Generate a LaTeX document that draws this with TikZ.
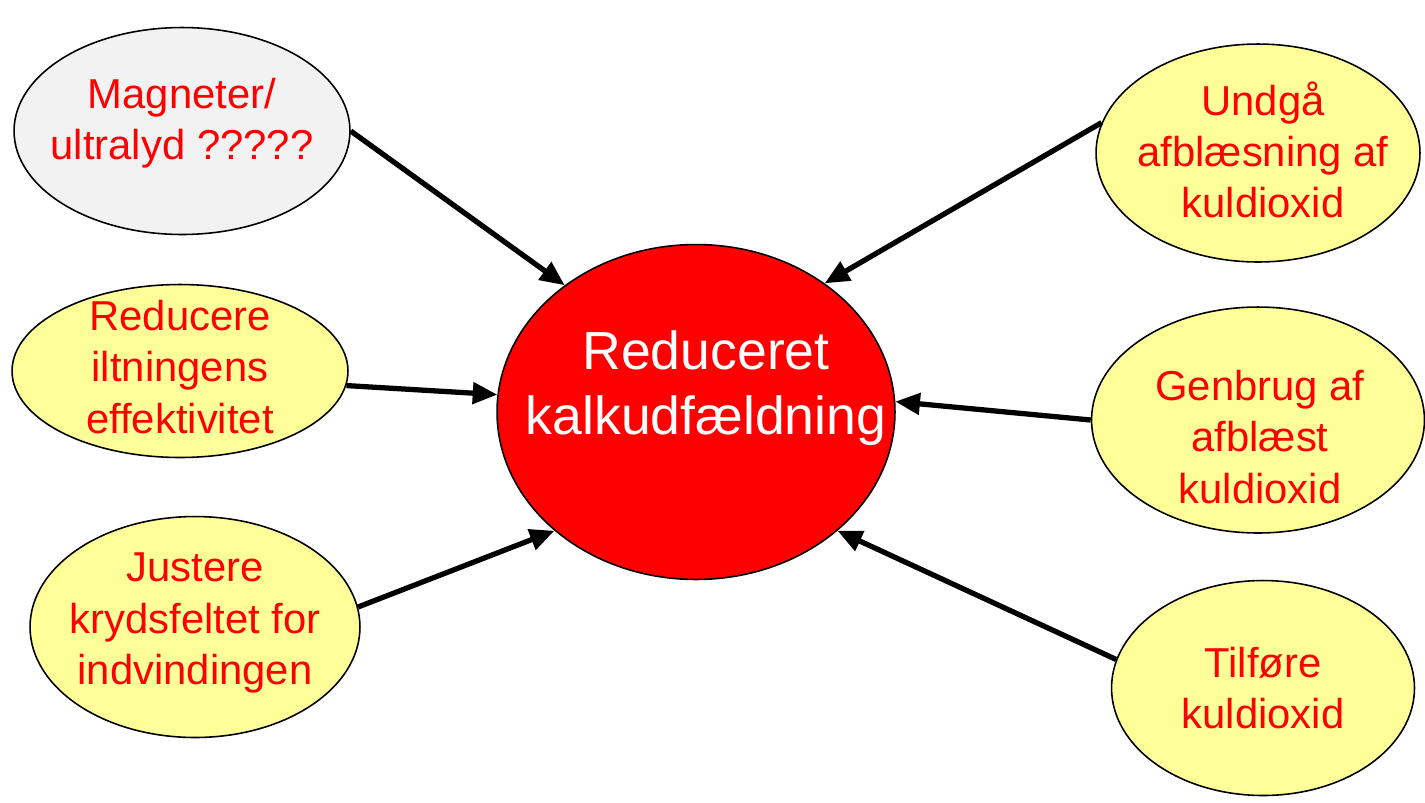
\documentclass[tikz,border=0pt]{standalone}
\usepackage{fontspec}
\setmainfont{Liberation Sans}
\usetikzlibrary{arrows.meta,shapes.geometric}
\definecolor{paleyellow}{HTML}{FFFF99}
\definecolor{palegray}{HTML}{F2F2F2}
\begin{document}
\begin{tikzpicture}
        [x=0.02cm, y=-0.02cm,
        ell/.style={ellipse, draw, line width=0.9pt, inner sep=0pt, fill=paleyellow},
        ellGray/.style={ellipse, draw, line width=0.9pt, inner sep=0pt, fill=palegray},
        core/.style={ellipse, draw, line width=0.9pt, inner sep=0pt, fill=red},
        txt/.style={align=center, text=red, font=\fontsize{23.8}{29.2}\selectfont},
        coretxt/.style={align=center, text=white, font=\fontsize{30.5}{37}\selectfont},
        arr/.style={line width=3pt, -{Triangle[length=14pt, width=12pt]}}]
        \useasboundingbox (0,0) rectangle (1425,802);

        \node[core, minimum width=7.96cm, minimum height=6.7cm] (C) at (696,412) {};
        \node[coretxt] (Ct) at (706,388) {Reduceret\\kalkudfældning};

        \node[ellGray, minimum width=6.72cm, minimum height=4.14cm] (M) at (182,131) {};
        \node[txt] (Mt) at (182,123) {Magneter/\\ultralyd ?????};
        \node[ell, minimum width=6.72cm, minimum height=3.46cm] (R) at (180,371) {};
        \node[txt] (Rt) at (180,367) {Reducere\\iltningens\\effektivitet};
        \node[ell, minimum width=6.6cm, minimum height=4.42cm] (J) at (195,627) {};
        \node[txt] (Jt) at (195,623) {Justere\\krydsfeltet for\\indvindingen};

        \node[ell, minimum width=6.48cm, minimum height=4.36cm] (U) at (1258,153) {};
        \node[txt] (Ut) at (1263,150) {Undgå\\afblæsning af\\kuldioxid};
        \node[ell, minimum width=6.66cm, minimum height=4.52cm] (G) at (1258,420) {};
        \node[txt] (Gt) at (1260,437) {Genbrug af\\afblæst\\kuldioxid};
        \node[ell, minimum width=6.06cm, minimum height=4.3cm] (T) at (1263,688) {};
        \node[txt] (Tt) at (1263,688) {Tilføre\\kuldioxid};

        \draw[arr] (M.east) -- (C.136);
        \draw[arr] (R.-5) -- (C.175);
        \draw[arr] (J.7) -- (C.220);
        \draw[arr] (U.169) -- (C.45);
        \draw[arr] (G.west) -- (C.3);
        \draw[arr] (T.169) -- (C.-40);

    \end{tikzpicture}
\end{document}
